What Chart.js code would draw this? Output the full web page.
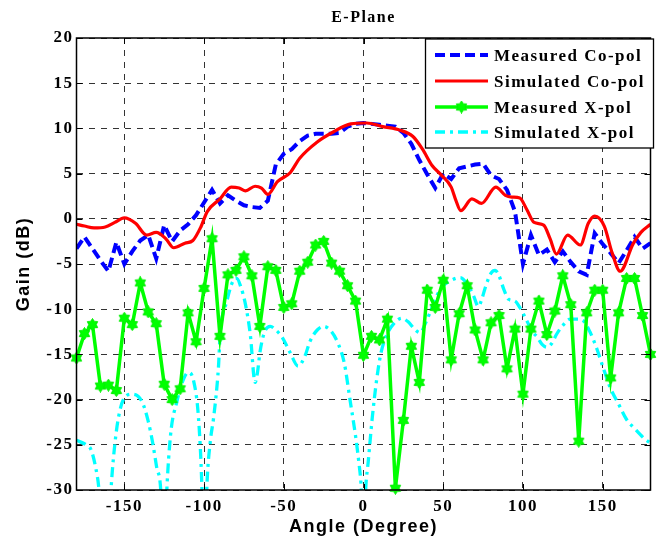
<!DOCTYPE html>
<html><head><meta charset="utf-8">
<script src="https://cdn.jsdelivr.net/npm/chart.js@4.4.1/dist/chart.umd.min.js"></script>
<style>html,body{margin:0;padding:0;background:#fff;}canvas{display:block;}</style>
</head><body>
<canvas id="c" width="668" height="546"></canvas>
<script>
const chartTitle = 'E-Plane';
const xAxisTitle = 'Angle (Degree)';
const yAxisTitle = 'Gain (dB)';
const seriesNames = ['Measured Co-pol', 'Simulated Co-pol', 'Measured X-pol', 'Simulated X-pol'];
const xTicks = [-150, -100, -50, 0, 50, 100, 150];
const yTicks = [-30, -25, -20, -15, -10, -5, 0, 5, 10, 15, 20];

const measAngles = [-180,-175,-170,-165,-160,-155,-150,-145,-140,-135,-130,-125,-120,-115,-110,-105,-100,-95,-90,-85,-80,-75,-70,-65,-60,-55,-50,-45,-40,-35,-30,-25,-20,-15,-10,-5,0,5,10,15,20,25,30,35,40,45,50,55,60,65,70,75,80,85,90,95,100,105,110,115,120,125,130,135,140,145,150,155,160,165,170,175,180];
const measuredCoPol = [-3.3,-2.0,-3.3,-4.6,-5.8,-2.6,-5.0,-3.6,-2.4,-1.8,-4.4,-0.7,-2.5,-1.3,-0.6,0.4,1.8,3.2,1.7,2.6,2.0,1.5,1.3,1.2,2.0,6.0,7.2,7.7,8.6,9.2,9.4,9.4,9.4,9.5,10.2,10.5,10.6,10.5,10.4,10.3,10.2,9.5,8.3,6.5,4.9,3.4,5.0,4.4,5.6,5.8,6.0,6.1,4.8,4.4,3.2,0.8,-5.0,-1.8,-4.0,-3.4,-4.8,-3.6,-4.8,-5.8,-6.2,-1.6,-2.8,-3.8,-4.9,-3.5,-2.0,-3.3,-2.7];
const measuredXPol = [-15.4,-12.7,-11.7,-18.5,-18.4,-19.0,-11.0,-11.7,-7.1,-10.3,-11.6,-18.3,-20.0,-18.8,-10.4,-13.6,-7.7,-2.2,-13.0,-6.2,-5.7,-4.2,-6.3,-11.9,-5.3,-5.7,-9.8,-9.4,-5.8,-4.8,-2.9,-2.5,-4.9,-5.8,-7.4,-9.1,-15.1,-13.0,-13.4,-11.1,-29.8,-22.3,-14.1,-18.1,-7.9,-9.8,-6.8,-15.6,-10.5,-7.4,-12.3,-15.6,-11.5,-10.7,-16.6,-12.2,-19.4,-12.2,-9.1,-12.8,-10.2,-6.3,-9.5,-24.6,-10.4,-7.9,-7.9,-17.6,-10.4,-6.6,-6.6,-10.7,-15.0];

const simCoAngles = [-180,-175,-169,-162,-156,-150,-143,-136,-130,-124,-119,-112,-107,-102,-98,-90,-83,-78,-74,-68,-64,-60,-54,-46,-40,-29,-19,-8,2,12,23,31,37,43,49,55,58,61,68,74,83,89,93,98,102.5,107,113,117,121,128,136,141,145,151,156,161,169,174,180];
const simulatedCoPol = [-0.6,-0.8,-1.0,-0.9,-0.4,0.1,-0.5,-1.8,-1.5,-2.2,-3.2,-2.7,-2.4,-0.9,0.8,2.2,3.5,3.4,3.1,3.6,3.4,2.7,4.1,5.1,6.7,8.5,9.6,10.5,10.6,10.2,9.8,9.1,7.7,5.9,4.8,3.5,2.0,0.9,2.2,1.7,3.5,2.6,2.4,2.3,1.0,-0.4,-0.7,-2.2,-3.9,-1.8,-2.9,-0.5,0.3,-0.8,-3.8,-5.8,-2.8,-1.5,-0.6];

const simXAngles = [-180,-174,-171,-168,-166,-164,-162,-160,-158,-156,-153.7,-150,-145,-139,-135,-132,-129.6,-127,-125.5,-123.5,-121,-117,-113,-110,-106.6,-103.5,-101.4,-100,-98.2,-96,-94,-91,-89.9,-85.7,-81.6,-79.5,-77,-74,-71,-68,-66.5,-64.8,-62,-58.5,-55,-51,-46,-41,-37,-33.4,-29,-25,-20,-15.7,-12,-8.3,-5,-3,-1.5,0,1.5,3,5.5,8.4,11,14.7,19,24,28,32,35.6,39,43,46,50,55,60.7,65,69,72,74,76.4,80,82.6,85,88,91,95,98,102.5,106,109,112,115,118,121,125,129.7,134,138,142,146.4,150,154.8,160,165,170,176.7,180];
const simulatedXPol = [-24.5,-25.0,-25.5,-27.5,-29.8,-35,-40,-35,-29,-25,-22.0,-19.8,-19.4,-20.2,-22.4,-25.0,-27.6,-30.5,-40,-30.5,-23.9,-20.2,-17.8,-17.0,-17.9,-22.0,-29.5,-40,-29.5,-24.5,-22.0,-16.5,-12.8,-9.1,-6.8,-6.6,-7.5,-9.5,-12.8,-18.1,-17.0,-14.6,-12.5,-11.9,-12.3,-13.1,-14.8,-16.3,-15.3,-13.5,-12.3,-11.9,-12.5,-13.9,-16.0,-20.2,-24.0,-26.8,-29.5,-35,-29.5,-26.8,-22.0,-17.6,-14.8,-12.8,-11.6,-11.0,-11.4,-12.2,-12.6,-11.5,-9.8,-8.5,-7.4,-6.8,-6.5,-7.2,-8.5,-9.7,-9.0,-7.6,-6.0,-5.7,-6.3,-7.8,-8.9,-9.1,-9.8,-11.3,-12.5,-13.1,-13.9,-14.2,-13.8,-12.8,-11.8,-11.1,-11.1,-11.3,-12.5,-14.4,-16.3,-18.7,-20.5,-22.2,-23.2,-24.4,-24.8];

function pairs(xs, ys) { return xs.map((x, i) => ({x: x, y: ys[i]})); }

// hexagram marker
const hex = document.createElement('canvas');
hex.width = 13; hex.height = 13;
(function(){
  const g = hex.getContext('2d');
  const cx = 6.5, cy = 6.5, R = 6, r = 3.7;
  g.beginPath();
  for (let k = 0; k < 12; k++) {
    const a = -Math.PI/2 + k*Math.PI/6;
    const rad = (k % 2 === 0) ? R : r;
    const px = cx + rad*Math.cos(a), py = cy + rad*Math.sin(a);
    if (k === 0) g.moveTo(px, py); else g.lineTo(px, py);
  }
  g.closePath();
  g.fillStyle = '#00ff00'; g.fill();
  g.strokeStyle = '#00ee00'; g.lineWidth = 1; g.stroke();
})();

const SERIF = "'Liberation Serif', 'Times New Roman', serif";
const SANS = "'Liberation Sans', Arial, sans-serif";
const SPACING = '1.5px';

const spacingPlugin = {
  id: 'spacing',
  beforeUpdate(chart) { chart.ctx.letterSpacing = SPACING; },
  beforeDraw(chart) { chart.ctx.letterSpacing = SPACING; }
};

const framePlugin = {
  id: 'frame',
  afterDraw(chart) {
    const ctx = chart.ctx, ca = chart.chartArea;
    const xs = chart.scales.x, ys = chart.scales.y;
    ctx.save();
    ctx.letterSpacing = SPACING;
    ctx.strokeStyle = '#000'; ctx.lineWidth = 1.5; ctx.setLineDash([]);
    ctx.strokeRect(ca.left, ca.top, ca.right - ca.left, ca.bottom - ca.top);
    ctx.lineWidth = 1;
    const tl = 6;
    ctx.beginPath();
    xTicks.forEach(v => {
      const px = Math.round(xs.getPixelForValue(v)) + 0.5;
      ctx.moveTo(px, ca.bottom); ctx.lineTo(px, ca.bottom - tl);
      ctx.moveTo(px, ca.top); ctx.lineTo(px, ca.top + tl);
    });
    yTicks.forEach(v => {
      const py = Math.round(ys.getPixelForValue(v)) + 0.5;
      ctx.moveTo(ca.left, py); ctx.lineTo(ca.left + tl, py);
      ctx.moveTo(ca.right, py); ctx.lineTo(ca.right - tl, py);
    });
    ctx.stroke();

    // title
    ctx.fillStyle = '#000';
    ctx.font = 'bold 16px ' + SERIF;
    ctx.textAlign = 'center'; ctx.textBaseline = 'middle';
    ctx.fillText(chartTitle, (ca.left + ca.right) / 2, 18);

    // legend
    const bx = 425.5, by = 39, bw = 228, bh = 109;
    ctx.fillStyle = '#fff';
    ctx.fillRect(bx, by, bw, bh);
    ctx.strokeStyle = '#000'; ctx.lineWidth = 1.3;
    ctx.strokeRect(bx, by, bw, bh);
    const rows = [55, 81, 107, 132];
    chart.data.datasets.forEach((ds, i) => {
      const y = rows[i];
      ctx.save();
      ctx.strokeStyle = ds.borderColor; ctx.lineWidth = ds.borderWidth;
      ctx.setLineDash(ds.borderDash || []);
      ctx.lineCap = 'butt';
      ctx.beginPath(); ctx.moveTo(435, y); ctx.lineTo(488, y); ctx.stroke();
      ctx.restore();
      if (ds.pointStyle instanceof HTMLCanvasElement) {
        ctx.drawImage(ds.pointStyle, 461.5 - 6.5, y - 6.5);
      }
      ctx.fillStyle = '#000';
      ctx.font = 'bold 17px ' + SERIF;
      ctx.textAlign = 'left'; ctx.textBaseline = 'middle';
      ctx.fillText(ds.label, 494, y + 2);
    });
    ctx.restore();
  }
};

new Chart(document.getElementById('c'), {
  type: 'line',
  data: {
    datasets: [
      { label: seriesNames[0], data: pairs(measAngles, measuredCoPol), borderColor: '#0000ff', borderWidth: 4, borderDash: [10, 5], pointRadius: 0, tension: 0, order: 4, fill: false },
      { label: seriesNames[1], data: pairs(simCoAngles, simulatedCoPol), borderColor: '#ff0000', borderWidth: 3.2, pointRadius: 0, cubicInterpolationMode: 'monotone', order: 3, fill: false },
      { label: seriesNames[2], data: pairs(measAngles, measuredXPol), borderColor: '#00ff00', borderWidth: 3.5, pointStyle: hex, pointRadius: 6, pointBackgroundColor: '#00ff00', pointBorderColor: '#00ff00', tension: 0, order: 1, clip: false, fill: false },
      { label: seriesNames[3], data: pairs(simXAngles, simulatedXPol), borderColor: '#00ffff', borderWidth: 3.3, borderDash: [10, 5, 3, 5], pointRadius: 0, cubicInterpolationMode: 'monotone', order: 2, clip: 0, fill: false }
    ]
  },
  options: {
    responsive: false,
    animation: false,
    devicePixelRatio: 1,
    events: [],
    layout: { padding: { left: 0, right: 17.5, top: 38, bottom: 0 } },
    plugins: { legend: { display: false }, title: { display: false }, tooltip: { enabled: false } },
    scales: {
      x: {
        type: 'linear', min: -180, max: 180,
        afterBuildTicks: (axis) => { axis.ticks = xTicks.map(v => ({ value: v })); },
        afterFit: (s) => { s.height = 56; },
        grid: { color: 'rgba(0,0,0,0.8)', lineWidth: 1, drawTicks: false },
        border: { display: false, dash: [6, 6] },
        ticks: { color: '#000', padding: 6, maxRotation: 0, autoSkip: false, font: { family: SERIF, size: 17, weight: 'bold' } },
        title: { display: true, text: xAxisTitle, color: '#000', padding: { top: 0, bottom: 8 }, font: { family: SANS, size: 18, weight: 'bold' } }
      },
      y: {
        type: 'linear', min: -30, max: 20,
        afterBuildTicks: (axis) => { axis.ticks = yTicks.map(v => ({ value: v })); },
        afterFit: (s) => { s.width = 76.5; },
        grid: { color: 'rgba(0,0,0,0.8)', lineWidth: 1, drawTicks: false },
        border: { display: false, dash: [6, 6] },
        ticks: { color: '#000', padding: 3, font: { family: SERIF, size: 17, weight: 'bold' } },
        title: { display: true, text: yAxisTitle, color: '#000', padding: { top: 13, bottom: 0 }, font: { family: SANS, size: 18, weight: 'bold' } }
      }
    }
  },
  plugins: [spacingPlugin, framePlugin]
});
</script>
</body></html>
